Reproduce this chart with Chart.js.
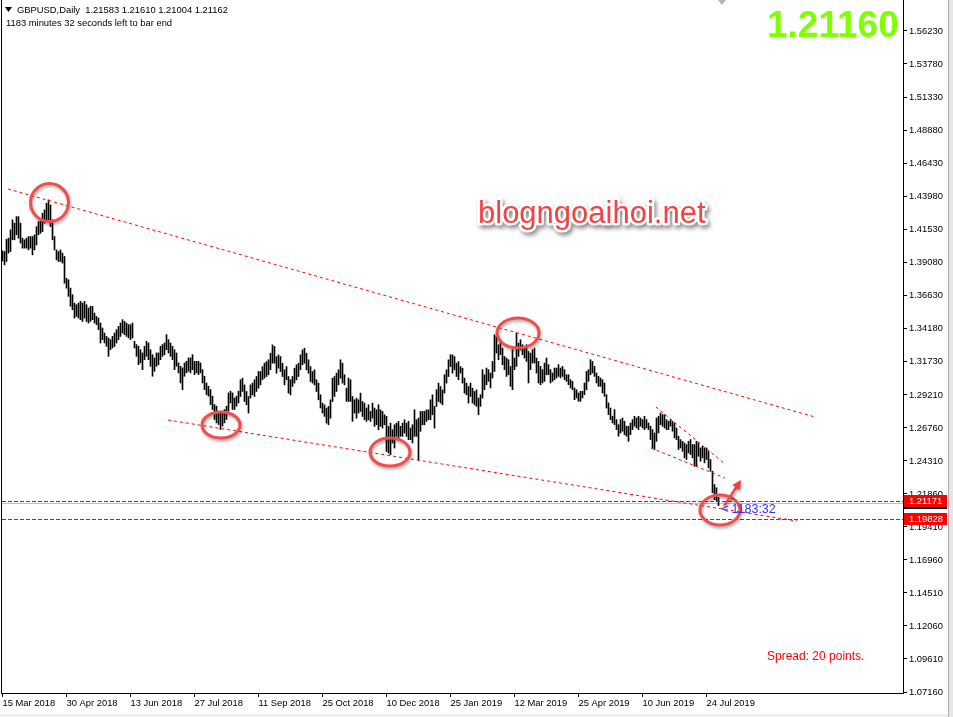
<!DOCTYPE html>
<html><head><meta charset="utf-8">
<script src="https://cdn.jsdelivr.net/npm/chart.js@4/dist/chart.umd.min.js"></script>
<style>html,body{margin:0;padding:0;background:#fff;}canvas{display:block;}</style>
</head><body>
<canvas id="c" width="953" height="717"></canvas>
<script>
// ---------- chart texts ----------
const symbolTitle = "GBPUSD,Daily";
const lastOHLC = ["1.21583", "1.21610", "1.21004", "1.21162"];
const timerLine = "1183 minutes 32 seconds left to bar end";
const bigPriceText = "1.21160";
const timerText = "1183:32";
const spreadText = "Spread: 20 points.";
const watermark = "blogngoaihoi.net";

// ---------- axes ----------
const xTickIndex = [0, 32, 64, 96, 128, 160, 192, 224, 256, 288, 320, 352];
const xTickLabels = ["15 Mar 2018", "30 Apr 2018", "13 Jun 2018", "27 Jul 2018", "11 Sep 2018", "25 Oct 2018",
  "10 Dec 2018", "25 Jan 2019", "12 Mar 2019", "25 Apr 2019", "10 Jun 2019", "24 Jul 2019"];
const yTickValues = [1.56230, 1.53780, 1.51330, 1.48880, 1.46430, 1.43980, 1.41530, 1.39080, 1.36630, 1.34180,
  1.31730, 1.29210, 1.26760, 1.24310, 1.21860, 1.19410, 1.16960, 1.14510, 1.12060, 1.09610, 1.07160];
const yMin = 1.07086, yMax = 1.58531;
const xMin = -0.25, xMax = 450.25;

// ---------- daily bars (high / low) ----------
const highs = [
1.3991,1.3986,1.4077,1.4085,1.4147,1.4221,1.4196,1.4245,1.4245,1.4196,
1.4085,1.4073,1.4085,1.4097,1.4097,1.4097,1.4110,1.4171,1.4208,1.4221,
1.4270,1.4295,1.4344,1.4369,1.4332,1.4221,1.4097,1.3998,1.3986,1.3998,
1.3974,1.3949,1.3788,1.3776,1.3714,1.3665,1.3603,1.3591,1.3603,1.3616,
1.3603,1.3616,1.3591,1.3566,1.3579,1.3579,1.3529,1.3504,1.3492,1.3455,
1.3418,1.3381,1.3356,1.3344,1.3332,1.3356,1.3381,1.3406,1.3430,1.3455,
1.3480,1.3467,1.3455,1.3443,1.3443,1.3455,1.3319,1.3295,1.3282,1.3257,
1.3233,1.3282,1.3319,1.3307,1.3257,1.3220,1.3196,1.3233,1.3233,1.3282,
1.3295,1.3307,1.3369,1.3332,1.3307,1.3282,1.3257,1.3233,1.3159,1.3134,
1.3122,1.3159,1.3171,1.3196,1.3196,1.3220,1.3171,1.3171,1.3171,1.3159,
1.3109,1.3060,1.3010,1.2986,1.2961,1.2912,1.2850,1.2838,1.2788,1.2801,
1.2788,1.2813,1.2838,1.2936,1.2949,1.2936,1.2899,1.2912,1.2949,
1.3034,1.3046,1.2996,1.2947,1.2910,1.2996,1.3009,1.3034,1.3058,1.3095,
1.3095,1.3132,1.3157,1.3169,1.3182,1.3231,1.3293,1.3281,1.3206,1.3219,
1.3206,1.3157,1.3108,1.3132,1.3058,1.3034,1.3058,1.3120,1.3145,1.3157,
1.3219,1.3256,1.3268,1.3231,1.3182,1.3132,1.3095,1.3108,1.3034,1.3009,
1.2922,1.2861,1.2848,1.2824,1.2836,1.2885,1.3046,1.3058,1.3083,1.3108,
1.3182,1.3157,1.3071,1.2972,1.3046,1.3034,1.2910,1.2885,1.2898,1.2885,
1.2935,1.2873,1.2861,1.2824,1.2848,1.2799,1.2861,1.2824,1.2811,1.2848,
1.2811,1.2799,1.2774,1.2762,1.2688,1.2712,1.2663,1.2700,1.2712,1.2725,
1.2688,1.2712,1.2737,1.2712,1.2725,1.2675,1.2700,1.2811,1.2737,1.2749,
1.2799,1.2799,1.2799,1.2811,1.2811,1.2885,1.2922,1.2836,1.2959,1.3009,
1.2984,1.2959,1.3071,1.3108,1.3182,1.3219,1.3219,1.3206,1.3157,1.3169,
1.3132,1.3120,1.3046,1.3009,1.2984,1.3009,1.2972,1.2947,1.2959,1.2898,
1.2923,1.3109,1.3071,1.3121,1.3109,1.3084,1.3170,1.3368,1.3356,1.3294,
1.3331,1.3269,1.3207,1.3195,1.3183,1.3133,1.3257,1.3195,1.3380,1.3306,
1.3331,1.3294,1.3281,1.3294,1.3244,1.3232,1.3257,1.3269,1.3195,1.3170,
1.3133,1.3109,1.3158,1.3195,1.3146,1.3109,1.3084,1.3121,1.3121,1.3146,
1.3121,1.3133,1.3109,1.3071,1.3071,1.3034,1.3022,1.2973,1.2960,1.2936,
1.2948,1.2948,1.3010,1.3096,1.3109,1.3183,1.3170,1.3133,1.3084,1.3059,
1.3047,1.3034,1.3010,1.2923,1.2862,1.2824,1.2763,1.2812,1.2738,1.2701,
1.2738,1.2750,1.2726,1.2689,1.2689,1.2713,1.2738,1.2763,1.2750,1.2763,
1.2750,1.2738,1.2763,1.2738,1.2713,1.2689,1.2664,1.2639,1.2750,1.2763,
1.2787,1.2775,1.2775,1.2738,1.2726,1.2738,1.2726,1.2713,1.2676,1.2615,
1.2590,1.2577,1.2565,1.2553,1.2577,1.2590,1.2553,1.2553,1.2577,1.2565,
1.2528,1.2540,1.2528,1.2528,1.2503,1.2442,1.2355,1.2256,1.2232,1.2161];
const lows = [
1.3917,1.3887,1.3912,1.3974,1.3986,1.4073,1.4073,1.4110,1.4085,1.4048,
1.4011,1.4011,1.4011,1.3998,1.4011,1.3961,1.3998,1.4035,1.4110,1.4122,
1.4134,1.4196,1.4208,1.4221,1.4171,1.4073,1.3998,1.3924,1.3912,1.3912,
1.3900,1.3751,1.3714,1.3653,1.3579,1.3554,1.3492,1.3504,1.3492,1.3480,
1.3467,1.3492,1.3467,1.3455,1.3467,1.3480,1.3455,1.3443,1.3406,1.3307,
1.3332,1.3307,1.3282,1.3208,1.3257,1.3270,1.3282,1.3307,1.3332,1.3356,
1.3381,1.3369,1.3356,1.3344,1.3332,1.3344,1.3270,1.3208,1.3146,1.3159,
1.3109,1.3183,1.3208,1.3183,1.3134,1.3060,1.3097,1.3134,1.3146,1.3183,
1.3208,1.3220,1.3257,1.3233,1.3208,1.3183,1.3109,1.3134,1.3085,1.3010,
1.2961,1.3060,1.3085,1.3097,1.3085,1.3109,1.3072,1.3085,1.3072,1.3085,
1.3010,1.2961,1.2924,1.2912,1.2850,1.2813,1.2739,1.2714,1.2702,1.2665,
1.2690,1.2714,1.2739,1.2801,1.2862,1.2813,1.2813,1.2838,1.2862,
1.2910,1.2947,1.2873,1.2848,1.2787,1.2898,1.2922,1.2910,1.2947,1.2972,
1.2996,1.3034,1.3046,1.3058,1.3071,1.3108,1.3157,1.3157,1.3083,1.3120,
1.3095,1.3058,1.2996,1.3034,1.2935,1.2922,1.2984,1.3009,1.3034,1.3058,
1.3108,1.3145,1.3157,1.3108,1.3083,1.3021,1.3009,1.2996,1.2947,1.2885,
1.2824,1.2787,1.2762,1.2712,1.2700,1.2749,1.2873,1.2910,1.2947,1.2996,
1.3046,1.3009,1.2996,1.2873,1.2873,1.2873,1.2725,1.2787,1.2749,1.2787,
1.2799,1.2762,1.2737,1.2725,1.2737,1.2725,1.2749,1.2688,1.2700,1.2663,
1.2688,1.2675,1.2700,1.2502,1.2490,1.2478,1.2564,1.2527,1.2614,1.2589,
1.2614,1.2614,1.2638,1.2614,1.2589,1.2589,1.2564,1.2614,1.2614,1.2438,
1.2651,1.2700,1.2700,1.2725,1.2737,1.2737,1.2774,1.2675,1.2836,1.2873,
1.2861,1.2848,1.2935,1.3009,1.3058,1.3132,1.3083,1.3108,1.3058,1.3034,
1.3083,1.3009,1.2935,1.2922,1.2861,1.2910,1.2861,1.2848,1.2836,1.2774,
1.2837,1.2899,1.2960,1.2997,1.3022,1.2973,1.3047,1.3096,1.3232,1.3183,
1.3220,1.3146,1.3109,1.3059,1.3071,1.2985,1.2960,1.3109,1.3133,1.3207,
1.3257,1.3220,1.3195,1.3170,1.3010,1.3109,1.3158,1.3158,1.3084,1.3010,
1.2997,1.3010,1.3022,1.3071,1.3071,1.3010,1.3022,1.3034,1.3047,1.3059,
1.3047,1.3059,1.3034,1.3022,1.2997,1.2973,1.2960,1.2886,1.2899,1.2874,
1.2874,1.2899,1.2923,1.2960,1.3022,1.3071,1.3084,1.3059,1.3010,1.2985,
1.2985,1.2936,1.2911,1.2824,1.2775,1.2738,1.2713,1.2701,1.2664,1.2615,
1.2639,1.2652,1.2627,1.2615,1.2577,1.2627,1.2664,1.2689,1.2676,1.2664,
1.2689,1.2676,1.2664,1.2676,1.2664,1.2590,1.2528,1.2516,1.2577,1.2639,
1.2701,1.2689,1.2676,1.2664,1.2664,1.2689,1.2652,1.2602,1.2590,1.2516,
1.2528,1.2503,1.2454,1.2442,1.2491,1.2479,1.2454,1.2392,1.2392,1.2466,
1.2429,1.2454,1.2417,1.2442,1.2380,1.2355,1.2195,1.2145,1.2133,1.2100];

// ---------- drawn objects (in bar index / price units) ----------
const bidPrice = 1.21162;
const hLinePrices = [1.21171, 1.19828];
const trendLines = [
  [2.75, 1.44500, 406.25, 1.27575],
  [82.75, 1.27352, 397.25, 1.19854],
  [326.75, 1.28317, 361.25, 1.24085],
  [324.25, 1.25273, 361.25, 1.23046]
];
const ellipses = [ // index, price, rx, ry (px)
  [23.5, 1.43498, 19, 19],
  [109.25, 1.26981, 19, 13],
  [193.75, 1.24976, 20, 14],
  [257.75, 1.33810, 21, 15],
  [358.75, 1.20671, 20, 15]
];
const arrowPts = [360.75, 1.20968, 369.25, 1.22898];

const FONT = '"Liberation Sans", Arial, sans-serif';

const overlay = {
  id: 'overlay',
  beforeDatasetsDraw(chart) {
    const {ctx, chartArea: a, scales: {y}} = chart;
    ctx.save();
    ctx.strokeStyle = '#c0c0c0'; ctx.lineWidth = 1;
    const yb = Math.round(y.getPixelForValue(bidPrice)) + 0.5;
    ctx.beginPath(); ctx.moveTo(a.left, yb); ctx.lineTo(a.right, yb); ctx.stroke();
    ctx.restore();
  },
  afterDraw(chart) {
    const {ctx, chartArea: a, scales: {x, y}} = chart;
    const px = v => x.getPixelForValue(v), py = v => y.getPixelForValue(v);
    ctx.save();
    ctx.beginPath(); ctx.rect(a.left, a.top, a.right - a.left, a.bottom - a.top); ctx.clip();

    // horizontal red levels (dashes)
    ctx.fillStyle = '#ff0000';
    hLinePrices.forEach(p => {
      const yy = Math.round(py(p)) - 2;
      for (let xx = a.left; xx < a.right; xx += 6) ctx.fillRect(xx, yy, 4, 1);
    });
    // trend lines
    ctx.strokeStyle = '#ff0000'; ctx.lineWidth = 1;
    ctx.setLineDash([3, 3]);
    trendLines.forEach(t => {
      ctx.beginPath(); ctx.moveTo(px(t[0]), py(t[1])); ctx.lineTo(px(t[2]), py(t[3])); ctx.stroke();
    });
    ctx.setLineDash([]);

    // watermark
    ctx.font = '31px ' + FONT;
    ctx.textBaseline = 'alphabetic'; ctx.textAlign = 'left';
    ctx.save();
    ctx.shadowColor = 'rgba(0,0,0,0.45)'; ctx.shadowBlur = 4; ctx.shadowOffsetX = 2; ctx.shadowOffsetY = 3;
    ctx.lineWidth = 5; ctx.lineJoin = 'round'; ctx.strokeStyle = '#ffffff';
    ctx.strokeText(watermark, 478, 223);
    ctx.restore();
    ctx.fillStyle = '#f24444';
    ctx.fillText(watermark, 478, 223);

    // ellipses
    ctx.save();
    ctx.shadowColor = 'rgba(0,0,0,0.35)'; ctx.shadowBlur = 3; ctx.shadowOffsetX = 1; ctx.shadowOffsetY = 2;
    ctx.strokeStyle = '#f04e4e'; ctx.lineWidth = 3;
    ellipses.forEach(e => {
      ctx.beginPath(); ctx.ellipse(px(e[0]), py(e[1]), e[2], e[3], 0, 0, Math.PI * 2); ctx.stroke();
    });
    // arrow
    const x1 = px(arrowPts[0]), y1 = py(arrowPts[1]), x2 = px(arrowPts[2]), y2 = py(arrowPts[3]);
    const ang = Math.atan2(y2 - y1, x2 - x1);
    ctx.lineWidth = 2.5;
    ctx.beginPath(); ctx.moveTo(x1, y1); ctx.lineTo(x2 - 5 * Math.cos(ang), y2 - 5 * Math.sin(ang)); ctx.stroke();
    ctx.fillStyle = '#f04040';
    ctx.beginPath();
    ctx.moveTo(x2, y2);
    ctx.lineTo(x2 - 9 * Math.cos(ang) + 4.5 * Math.sin(ang), y2 - 9 * Math.sin(ang) - 4.5 * Math.cos(ang));
    ctx.lineTo(x2 - 9 * Math.cos(ang) - 4.5 * Math.sin(ang), y2 - 9 * Math.sin(ang) + 4.5 * Math.cos(ang));
    ctx.closePath(); ctx.fill();
    ctx.restore();

    // timer text next to last bar
    const lx = px(highs.length - 1), by = py(bidPrice);
    ctx.fillStyle = '#3030ff';
    ctx.font = '12.5px ' + FONT; ctx.textBaseline = 'middle';
    ctx.fillText('<', lx + 3, by + 6);
    ctx.fillText(timerText, lx + 13, by + 6);

    // big price
    ctx.font = 'bold 37px ' + FONT; ctx.textBaseline = 'alphabetic';
    ctx.fillStyle = '#7fff00';
    ctx.fillText(bigPriceText, 767, 37);

    // header
    ctx.fillStyle = '#000';
    ctx.beginPath(); ctx.moveTo(5, 7); ctx.lineTo(12, 7); ctx.lineTo(8.5, 12); ctx.closePath(); ctx.fill();
    ctx.font = '9.4px ' + FONT; ctx.textBaseline = 'middle';
    ctx.fillText(symbolTitle + '  ' + lastOHLC.join(' '), 17, 10);
    ctx.fillText(timerLine, 6, 23);

    // spread
    ctx.fillStyle = '#ff0000';
    ctx.font = '12px ' + FONT;
    ctx.fillText(spreadText, 767, 657);

    // shift marker
    ctx.fillStyle = '#b4b4b4';
    ctx.beginPath(); ctx.moveTo(718, 0); ctx.lineTo(726, 0); ctx.lineTo(722, 5); ctx.closePath(); ctx.fill();
    ctx.restore();

    // left frame
    ctx.save();
    ctx.strokeStyle = '#000'; ctx.lineWidth = 1;
    ctx.beginPath(); ctx.moveTo(a.left - 0.5, a.top); ctx.lineTo(a.left - 0.5, a.bottom + 1); ctx.stroke();

    // price labels on axis
    const bx = a.right + 1, bw = 43;
    const ybid = py(bidPrice);
    ctx.fillStyle = '#000';
    ctx.fillRect(bx, Math.round(ybid) - 6, bw, 12);
    ctx.font = '9.4px ' + FONT; ctx.textBaseline = 'middle'; ctx.textAlign = 'left';
    hLinePrices.forEach(p => {
      const yy = Math.round(py(p));
      ctx.fillStyle = '#ff0000';
      ctx.fillRect(bx, yy - 8, bw, 12);
      ctx.fillStyle = '#ffffff';
      ctx.fillText(p.toFixed(5), a.right + 6, yy - 2);
    });

    // window edges
    ctx.fillStyle = '#e6e6e6';
    ctx.fillRect(948, 0, 5, 717);
    ctx.fillStyle = '#b0b0b0';
    ctx.fillRect(948, 0, 1, 717);
    ctx.fillStyle = '#eeeeee';
    ctx.fillRect(0, 714, 948, 3);
    ctx.restore();
  }
};

const bars = highs.map((h, i) => ({x: i, y: [lows[i], h]}));

new Chart(document.getElementById('c'), {
  type: 'bar',
  data: {datasets: [{data: bars, backgroundColor: '#000000', borderWidth: 0, barThickness: 1, borderSkipped: false}]},
  options: {
    responsive: false, animation: false, devicePixelRatio: 1,
    layout: {padding: {left: 2, top: 0, right: 0, bottom: 0}},
    plugins: {legend: {display: false}, tooltip: {enabled: false}, title: {display: false}},
    scales: {
      x: {
        type: 'linear', min: xMin, max: xMax, offset: false,
        afterBuildTicks: s => { s.ticks = xTickIndex.map(v => ({value: v})); },
        afterFit: s => { s.height = 24; s.paddingLeft = 0; s.paddingRight = 0; },
        grid: {display: true, drawOnChartArea: false, drawTicks: true, tickLength: 4, color: '#000', offset: false},
        border: {display: true, color: '#000'},
        ticks: {autoSkip: false, maxRotation: 0, minRotation: 0, align: 'start', padding: 1, color: '#000',
          font: {family: FONT, size: 9.4},
          callback: v => { const k = xTickIndex.indexOf(v); return k >= 0 ? xTickLabels[k] : ''; }}
      },
      y: {
        type: 'linear', position: 'right', min: yMin, max: yMax,
        afterBuildTicks: s => { s.ticks = yTickValues.map(v => ({value: v})); },
        afterFit: s => { s.width = 50; s.paddingTop = 0; s.paddingBottom = 0; },
        grid: {display: true, drawOnChartArea: false, drawTicks: true, tickLength: 4, color: '#000'},
        border: {display: true, color: '#000'},
        ticks: {autoSkip: false, padding: 2, color: '#000', font: {family: FONT, size: 9.4},
          callback: v => Number(v).toFixed(5)}
      }
    }
  },
  plugins: [overlay]
});
</script>
</body></html>
